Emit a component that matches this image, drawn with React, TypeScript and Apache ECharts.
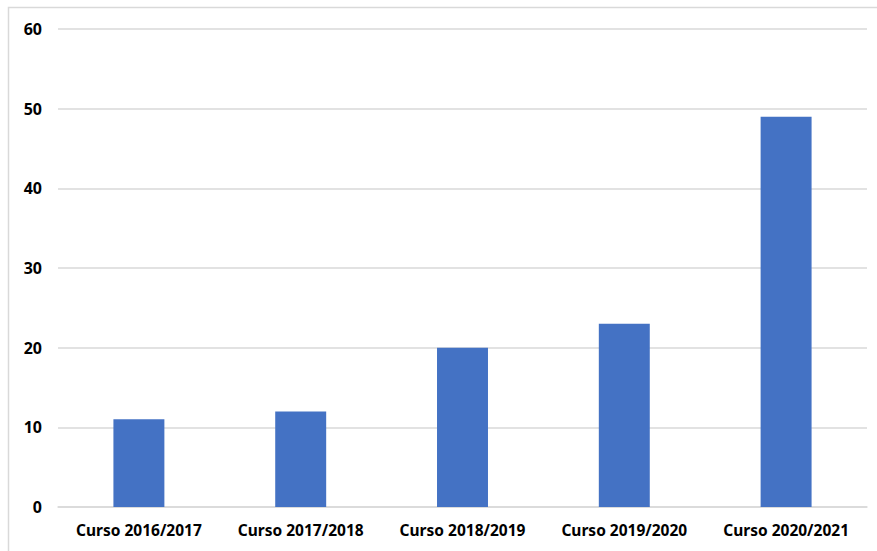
import React, { useEffect, useRef } from "react";
import * as echarts from "echarts";

const categories = ["Curso 2016/2017", "Curso 2017/2018", "Curso 2018/2019", "Curso 2019/2020", "Curso 2020/2021"];
const values = [11, 12, 20, 23, 49];
const yTicks = { min: 0, max: 60, interval: 10 };

export default function App() {
  const ref = useRef<HTMLDivElement>(null);
  useEffect(() => {
    if (!ref.current) return;
    const chart = echarts.init(ref.current, undefined, { renderer: "svg" });
    const font = "'Noto Sans', 'Open Sans', sans-serif";
    chart.setOption({
      animation: false,
      backgroundColor: "#ffffff",
      textStyle: { fontFamily: font },
      graphic: [
        {
          type: "rect",
          shape: { x: 8.5, y: 7.5, width: 900, height: 600 },
          style: { fill: "none", stroke: "#d9d9d9", lineWidth: 1.5 },
          silent: true,
        },
      ],
      grid: { left: 58, right: 10, top: 29, bottom: 44, containLabel: false },
      xAxis: {
        type: "category",
        data: categories,
        axisLine: { show: true, lineStyle: { color: "#d9d9d9", width: 1.5 } },
        axisTick: { show: false },
        axisLabel: {
          color: "#000",
          fontWeight: "bold",
          fontSize: 15.5,
          margin: 15,
          fontFamily: font,
          interval: 0,
          hideOverlap: false,
        },
      },
      yAxis: {
        type: "value",
        min: yTicks.min,
        max: yTicks.max,
        interval: yTicks.interval,
        axisLine: { show: false },
        axisTick: { show: false },
        splitLine: { lineStyle: { color: "#d9d9d9", width: 1.5 } },
        axisLabel: { color: "#000", fontWeight: "bold", fontSize: 16, margin: 16, fontFamily: font },
      },
      series: [
        {
          type: "bar",
          data: values,
          barWidth: "31.5%",
          itemStyle: { color: "#4472C4" },
        },
      ],
    });
    return () => chart.dispose();
  }, []);
  return (
    <div
      ref={ref}
      style={{ position: "absolute", left: 0, top: 0, width: 877, height: 551 }}
    />
  );
}
